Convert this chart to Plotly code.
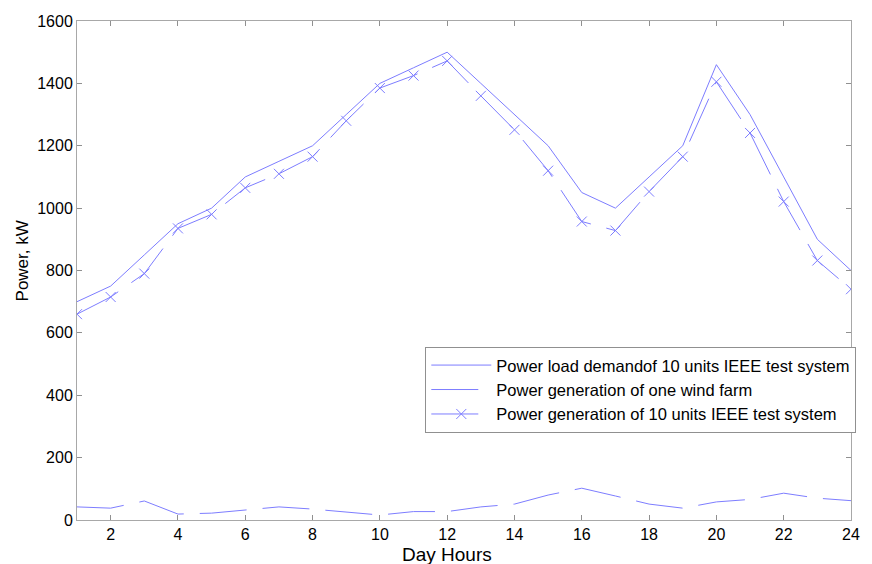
import plotly.graph_objects as go

hours = list(range(1, 25))
load_demand = [700, 750, 850, 950, 1000, 1100, 1150, 1200, 1300, 1400, 1450, 1500,
               1400, 1300, 1200, 1050, 1000, 1100, 1200, 1460, 1300, 1100, 900, 800]
wind_farm = [42, 38, 61, 19, 22, 32, 42, 35, 25, 16, 27, 27,
             42, 51, 80, 102, 77, 51, 38, 58, 66, 86, 70, 62]
generation = [660, 715, 790, 935, 980, 1065, 1110, 1165, 1280, 1385, 1425, 1472,
              1360, 1251, 1120, 957, 928, 1053, 1165, 1405, 1241, 1021, 832, 740]

names = ["Power load demandof 10 units IEEE test system",
         "Power generation of one wind farm",
         "Power generation of 10 units IEEE test system"]

col = "#7d7dff"
fig = go.Figure()
fig.add_trace(go.Scatter(x=hours, y=load_demand, mode="lines", name=names[0],
                         line=dict(color=col, width=1)))
fig.add_trace(go.Scatter(x=hours, y=wind_farm, mode="lines", name=names[1],
                         line=dict(color=col, width=1, dash="47px,16px")))
fig.add_trace(go.Scatter(x=hours, y=generation, mode="lines+markers", name=names[2],
                         line=dict(color=col, width=1, dash="47px,16px"),
                         marker=dict(symbol="x-thin-open", size=10,
                                     line=dict(color=col, width=1))))

axis_common = dict(showline=True, linecolor="#a8a8a8", linewidth=1, mirror="ticks",
                   ticks="inside", ticklen=5, tickcolor="#909090", showgrid=False,
                   zeroline=False, tickfont=dict(size=16, color="black"))
fig.update_layout(
    width=872, height=564,
    margin=dict(l=77, r=15, t=21, b=44),
    paper_bgcolor="white", plot_bgcolor="white",
    font=dict(family="Liberation Sans, Arial, sans-serif", color="black"),
    xaxis=dict(range=[1, 24], tickvals=list(range(2, 25, 2)), **axis_common),
    yaxis=dict(range=[0, 1600], tickvals=list(range(0, 1601, 200)), **axis_common),
    legend=dict(x=0.45, y=0.347, xanchor="left", yanchor="top",
                bordercolor="#909090", borderwidth=1, bgcolor="white",
                font=dict(size=16.5), itemwidth=60, tracegroupgap=0),
    showlegend=True,
    annotations=[
        dict(text="Day Hours", xref="paper", yref="paper", x=0.478, y=-0.069,
             xanchor="center", yanchor="middle", showarrow=False,
             font=dict(size=19, color="black")),
        dict(text="Power, kW", xref="paper", yref="paper", x=-0.0705, y=0.519,
             xanchor="center", yanchor="middle", textangle=-90, showarrow=False,
             font=dict(size=17, color="black")),
    ],
)
fig.write_html("out.html")
